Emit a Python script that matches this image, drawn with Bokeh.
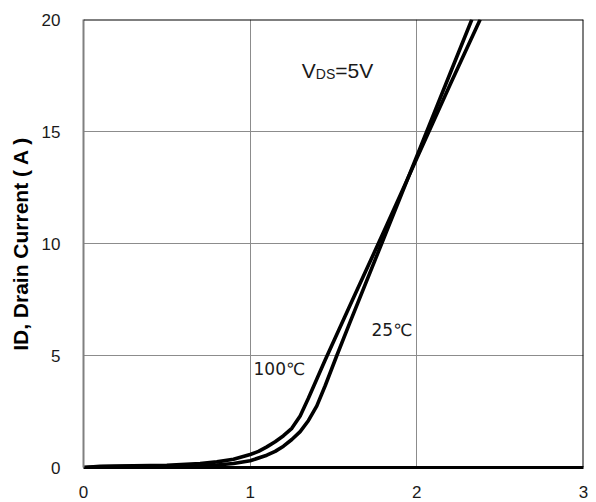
from bokeh.plotting import figure
from bokeh.models import Range1d, FixedTicker, Span, Label
from bokeh.embed import file_html
from bokeh.resources import INLINE

# Data
x_100 = [0, 0.1, 0.3, 0.5, 0.7, 0.8, 0.9, 1.0, 1.05, 1.1, 1.15, 1.2, 1.25, 1.3, 1.35, 1.4, 1.45, 1.6, 1.8, 2.0, 2.2, 2.38]
y_100 = [0, 0.05, 0.08, 0.1, 0.18, 0.25, 0.37, 0.58, 0.72, 0.92, 1.15, 1.42, 1.75, 2.3, 3.1, 3.95, 4.8, 7.25, 10.5, 13.8, 17.1, 20]
x_25 = [0, 0.1, 0.3, 0.5, 0.7, 0.8, 0.9, 1.0, 1.1, 1.15, 1.2, 1.25, 1.3, 1.35, 1.4, 1.45, 1.52, 1.6, 1.8, 2.0, 2.2, 2.33]
y_25 = [0, 0.03, 0.05, 0.06, 0.08, 0.11, 0.18, 0.3, 0.55, 0.72, 0.95, 1.25, 1.6, 2.1, 2.75, 3.65, 5.0, 6.5, 10.2, 13.9, 17.6, 20]
x_ticks = [0, 1, 2, 3]
y_ticks = [0, 5, 10, 15, 20]
y_label = "ID, Drain Current ( A )"

p = figure(width=596, height=502, output_backend="svg", toolbar_location=None,
           x_range=Range1d(0, 3), y_range=Range1d(0, 20),
           min_border_left=83, min_border_right=13, min_border_top=19, min_border_bottom=35)
p.outline_line_color = None
p.background_fill_color = "white"

p.xaxis.ticker = FixedTicker(ticks=x_ticks)
p.yaxis.ticker = FixedTicker(ticks=y_ticks)
p.xgrid.ticker = FixedTicker(ticks=x_ticks)
p.ygrid.ticker = FixedTicker(ticks=y_ticks)
for g in (p.xgrid, p.ygrid):
    g.grid_line_color = "#8c8c8c"
    g.grid_line_width = 1

for ax in (p.xaxis, p.yaxis):
    ax.major_tick_line_color = None
    ax.minor_tick_line_color = None
    ax.major_label_text_font = "Liberation Sans"
    ax.major_label_text_font_size = "17px"
    ax.major_label_text_color = "#1a1a1a"

p.xaxis.axis_line_color = "black"
p.xaxis.axis_line_width = 3
p.xaxis.major_label_standoff = 12
p.yaxis.axis_line_color = "#808080"
p.yaxis.axis_line_width = 2
p.yaxis.major_label_standoff = 17
p.yaxis.axis_label = y_label
p.yaxis.axis_label_text_font = "Liberation Sans"
p.yaxis.axis_label_text_font_style = "bold"
p.yaxis.axis_label_text_font_size = "21px"
p.yaxis.axis_label_text_color = "black"
p.yaxis.axis_label_standoff = 7

p.add_layout(Span(location=20, dimension="width", line_color="black", line_width=2))
p.add_layout(Span(location=3, dimension="height", line_color="black", line_width=2))

p.line(x_100, y_100, line_color="black", line_width=3.6, line_join="round")
p.line(x_25, y_25, line_color="black", line_width=3.6, line_join="round")

p.add_layout(Label(x=1.02, y=3.97, text="100℃", text_font="DejaVu Sans",
                   text_font_size="17px", text_color="#1a1a1a"))
p.add_layout(Label(x=1.728, y=5.71, text="25℃", text_font="DejaVu Sans",
                   text_font_size="17px", text_color="#1a1a1a"))
p.add_layout(Label(x=1.31, y=17.19, text="V", text_font="Liberation Sans",
                   text_font_size="21px", text_color="#1a1a1a"))
p.add_layout(Label(x=1.31, y=17.19, x_offset=14, text="DS", text_font="Liberation Sans",
                   text_font_size="14px", text_color="#1a1a1a"))
p.add_layout(Label(x=1.31, y=17.19, x_offset=33.5, text="=5V", text_font="Liberation Sans",
                   text_font_size="21px", text_color="#1a1a1a"))

open("out.html", "w").write(file_html(p, INLINE))
